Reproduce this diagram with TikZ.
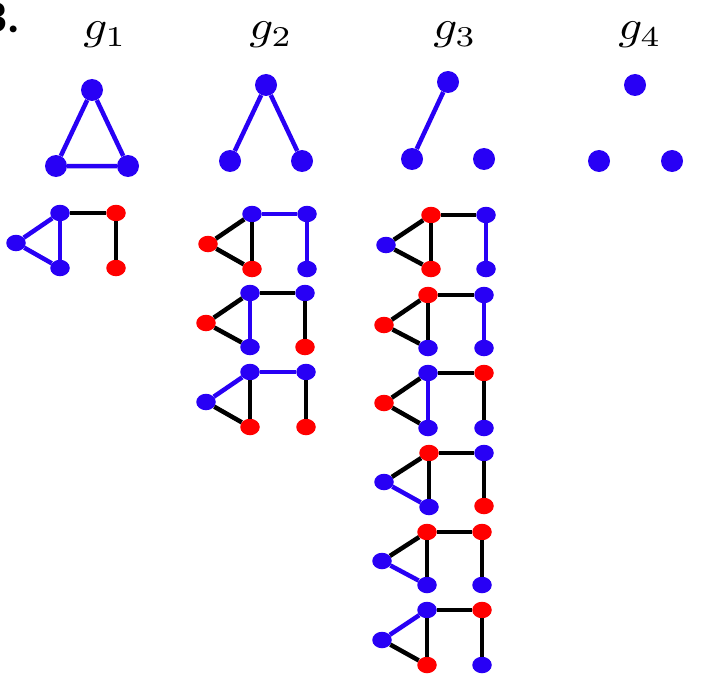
\documentclass[tikz,border=0pt]{standalone}
\usepackage{fontspec}
\newfontfamily\labfont{Carlito}
\usetikzlibrary{shapes.geometric}
\definecolor{nb}{RGB}{40,0,245}
\definecolor{nr}{RGB}{255,0,0}
\tikzset{
  big/.style={circle,fill=nb,minimum size=22pt,inner sep=0pt},
  bn/.style={ellipse,fill=nb,minimum width=19.5pt,minimum height=16.5pt,inner sep=0pt},
  rn/.style={ellipse,fill=nr,minimum width=19.5pt,minimum height=16.5pt,inner sep=0pt},
  bedge/.style={draw=nb,line width=4.5pt},
  kedge/.style={draw=black,line width=4.5pt},
  glab/.style={xscale=4.7,yscale=4.1,inner sep=0pt,anchor=base}
}
\begin{document}
\begin{tikzpicture}[x=1pt,y=-1pt]
\fill[white] (0,0) rectangle (708,679);
\useasboundingbox (0,0) rectangle (708,679);
% panel letter (cropped)
\node[inner sep=0pt,anchor=base east,font=\labfont\bfseries\fontsize{46}{50}\selectfont] (panel) at (20,33) {B.};
% labels
\node[glab] (l1) at (105,40) {$g_1$};
\node[glab] (l2) at (271,40) {$g_2$};
\node[glab] (l3) at (455,40) {$g_3$};
\node[glab] (l4) at (640,40) {$g_4$};
% top graphs
\node[big] (t1a) at (92,90) {};
\node[big] (t1b) at (56,166) {};
\node[big] (t1c) at (128,166) {};
\draw[bedge] (t1a) -- (t1b) -- (t1c) -- (t1a);
\node[big] (t2a) at (266,85) {};
\node[big] (t2b) at (230,161) {};
\node[big] (t2c) at (302,161) {};
\draw[bedge] (t2b) -- (t2a) -- (t2c);
\node[big] (t3a) at (448,82) {};
\node[big] (t3b) at (412,159) {};
\node[big] (t3c) at (484,159) {};
\draw[bedge] (t3a) -- (t3b);
\node[big] (t4a) at (635,85) {};
\node[big] (t4b) at (599,161) {};
\node[big] (t4c) at (672,161) {};
% column 1
\node[bn] (aL) at (16,243) {};
\node[bn] (aA) at (60,213) {};
\node[bn] (aB) at (60,268) {};
\node[rn] (aC) at (116,213) {};
\node[rn] (aD) at (116,268) {};
\draw[bedge] (aL) -- (aA); \draw[bedge] (aL) -- (aB); \draw[bedge] (aA) -- (aB);
\draw[kedge] (aA) -- (aC); \draw[kedge] (aC) -- (aD);
% column 2, graph 1
\node[rn] (bL) at (208,244) {};
\node[bn] (bA) at (252,214) {};
\node[rn] (bB) at (252,269) {};
\node[bn] (bC) at (307,214) {};
\node[bn] (bD) at (307,269) {};
\draw[kedge] (bL) -- (bA); \draw[kedge] (bL) -- (bB); \draw[kedge] (bA) -- (bB);
\draw[bedge] (bA) -- (bC); \draw[bedge] (bC) -- (bD);
% column 2, graph 2
\node[rn] (cL) at (206,323) {};
\node[bn] (cA) at (250,293) {};
\node[bn] (cB) at (250,347) {};
\node[bn] (cC) at (305,293) {};
\node[rn] (cD) at (305,347) {};
\draw[kedge] (cL) -- (cA); \draw[kedge] (cL) -- (cB); \draw[bedge] (cA) -- (cB);
\draw[kedge] (cA) -- (cC); \draw[kedge] (cC) -- (cD);
% column 2, graph 3
\node[bn] (dL) at (206,402) {};
\node[bn] (dA) at (250,372) {};
\node[rn] (dB) at (250,427) {};
\node[bn] (dC) at (306,372) {};
\node[rn] (dD) at (306,427) {};
\draw[bedge] (dL) -- (dA); \draw[kedge] (dL) -- (dB); \draw[kedge] (dA) -- (dB);
\draw[bedge] (dA) -- (dC); \draw[kedge] (dC) -- (dD);
% column 3, graph 1
\node[bn] (eL) at (386,245) {};
\node[rn] (eA) at (431,215) {};
\node[rn] (eB) at (431,269) {};
\node[bn] (eC) at (486,215) {};
\node[bn] (eD) at (486,269) {};
\draw[kedge] (eL) -- (eA); \draw[kedge] (eL) -- (eB); \draw[kedge] (eA) -- (eB);
\draw[kedge] (eA) -- (eC); \draw[bedge] (eC) -- (eD);
% column 3, graph 2
\node[rn] (fL) at (384,325) {};
\node[rn] (fA) at (428,295) {};
\node[bn] (fB) at (428,348) {};
\node[bn] (fC) at (484,295) {};
\node[bn] (fD) at (484,348) {};
\draw[kedge] (fL) -- (fA); \draw[kedge] (fL) -- (fB); \draw[kedge] (fA) -- (fB);
\draw[kedge] (fA) -- (fC); \draw[bedge] (fC) -- (fD);
% column 3, graph 3
\node[rn] (gL) at (384,403) {};
\node[bn] (gA) at (428,373) {};
\node[bn] (gB) at (428,428) {};
\node[rn] (gC) at (484,373) {};
\node[bn] (gD) at (484,428) {};
\draw[kedge] (gL) -- (gA); \draw[kedge] (gL) -- (gB); \draw[bedge] (gA) -- (gB);
\draw[kedge] (gA) -- (gC); \draw[kedge] (gC) -- (gD);
% column 3, graph 4
\node[bn] (hL) at (384,482) {};
\node[rn] (hA) at (429,453) {};
\node[bn] (hB) at (429,507) {};
\node[bn] (hC) at (484,453) {};
\node[rn] (hD) at (484,506) {};
\draw[kedge] (hL) -- (hA); \draw[bedge] (hL) -- (hB); \draw[kedge] (hA) -- (hB);
\draw[kedge] (hA) -- (hC); \draw[kedge] (hC) -- (hD);
% column 3, graph 5
\node[bn] (iL) at (382,561) {};
\node[rn] (iA) at (427,532) {};
\node[bn] (iB) at (427,585) {};
\node[rn] (iC) at (482,532) {};
\node[bn] (iD) at (482,585) {};
\draw[kedge] (iL) -- (iA); \draw[bedge] (iL) -- (iB); \draw[kedge] (iA) -- (iB);
\draw[kedge] (iA) -- (iC); \draw[kedge] (iC) -- (iD);
% column 3, graph 6
\node[bn] (jL) at (382,640) {};
\node[bn] (jA) at (427,610) {};
\node[rn] (jB) at (427,665) {};
\node[rn] (jC) at (482,610) {};
\node[bn] (jD) at (482,665) {};
\draw[bedge] (jL) -- (jA); \draw[kedge] (jL) -- (jB); \draw[kedge] (jA) -- (jB);
\draw[kedge] (jA) -- (jC); \draw[kedge] (jC) -- (jD);
\end{tikzpicture}
\end{document}
